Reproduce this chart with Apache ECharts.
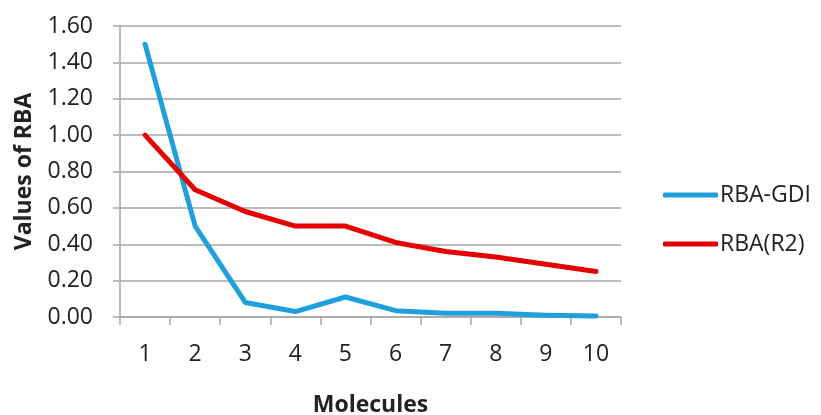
<!DOCTYPE html>
<html>
<head>
<meta charset="utf-8">
<script src="https://cdn.jsdelivr.net/npm/echarts@6/dist/echarts.min.js"></script>
<style>
  html, body { margin: 0; padding: 0; background: #fff; }
  #chart { width: 821px; height: 415px; }
</style>
</head>
<body>
<div id="chart"></div>
<script>
// Molecule index on the x axis
const molecules = ['1', '2', '3', '4', '5', '6', '7', '8', '9', '10'];
// RBA values for each method
const rbaGdi = [1.50, 0.50, 0.08, 0.03, 0.11, 0.035, 0.02, 0.02, 0.01, 0.005];
const rbaR2 = [1.00, 0.70, 0.58, 0.50, 0.50, 0.41, 0.36, 0.33, 0.29, 0.25];
// Y axis range
const yMin = 0, yMax = 1.6, yStep = 0.2;

const FONT = '"Open Sans", sans-serif';
const GRID_GRAY = '#a6a6a6';
const TEXT = '#222';

const chart = echarts.init(document.getElementById('chart'), null, { renderer: 'canvas' });
chart.setOption({
  animation: false,
  backgroundColor: '#fff',
  grid: { left: 120, right: 200, top: 26, bottom: 98, containLabel: false, outerBoundsMode: 'none' },
  legend: {
    orient: 'vertical',
    left: 663,
    top: 182,
    padding: 0,
    itemWidth: 55,
    itemHeight: 5,
    itemGap: 23,
    icon: 'roundRect',
    textStyle: { fontFamily: FONT, fontSize: 23, color: TEXT, lineHeight: 26, padding: [0, 0, 0, -3] },
    data: ['RBA-GDI', 'RBA(R2)']
  },
  xAxis: {
    type: 'category',
    data: molecules,
    boundaryGap: true,
    name: 'Molecules',
    nameLocation: 'middle',
    nameGap: 77,
    nameTextStyle: { fontFamily: FONT, fontSize: 23, fontWeight: 'bold', color: TEXT },
    axisLine: { lineStyle: { color: GRID_GRAY, width: 1.5 } },
    axisTick: { show: true, length: 8, alignWithLabel: false, lineStyle: { color: GRID_GRAY, width: 1.5 } },
    axisLabel: { fontFamily: FONT, fontSize: 23, color: TEXT, margin: 26 }
  },
  yAxis: {
    type: 'value',
    min: yMin,
    max: yMax,
    interval: yStep,
    name: 'Values of RBA',
    nameLocation: 'middle',
    nameGap: 84,
    nameRotate: 90,
    nameTextStyle: { fontFamily: FONT, fontSize: 23, fontWeight: 'bold', color: TEXT },
    axisLine: { show: true, lineStyle: { color: GRID_GRAY, width: 1.5 } },
    axisTick: { show: true, length: 7, lineStyle: { color: GRID_GRAY, width: 1.5 } },
    axisLabel: {
      fontFamily: FONT, fontSize: 23, color: TEXT, margin: 27,
      formatter: v => v.toFixed(2)
    },
    splitLine: { show: true, lineStyle: { color: GRID_GRAY, width: 1.5 } }
  },
  series: [
    {
      name: 'RBA-GDI',
      type: 'line',
      data: rbaGdi,
      symbol: 'none',
      color: '#1fa0dc',
      lineStyle: { width: 5, color: '#1fa0dc', cap: 'round', join: 'round' }
    },
    {
      name: 'RBA(R2)',
      type: 'line',
      data: rbaR2,
      symbol: 'none',
      color: '#e60000',
      lineStyle: { width: 5, color: '#e60000', cap: 'round', join: 'round' }
    }
  ]
});
</script>
</body>
</html>
